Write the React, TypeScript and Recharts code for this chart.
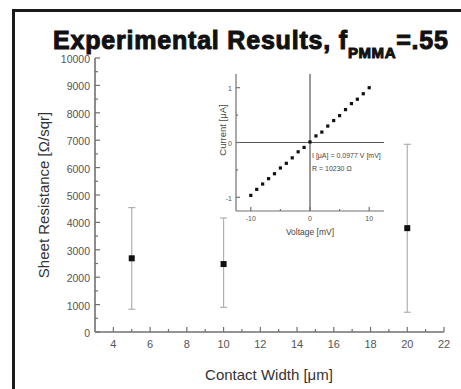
import React from 'react';
import { ScatterChart, Scatter, XAxis, YAxis, ErrorBar, ReferenceLine } from 'recharts';

// main plot: sheet resistance vs contact width
const contactWidths = [5, 10, 20];
const sheetRes = [2690, 2480, 3790];
const sheetResLow = [830, 900, 720];
const sheetResHigh = [4540, 4160, 6850];

const xTicks = [4, 5, 6, 7, 8, 9, 10, 11, 12, 13, 14, 15, 16, 17, 18, 19, 20, 21, 22];
const yTicks = [
  0, 500, 1000, 1500, 2000, 2500, 3000, 3500, 4000, 4500, 5000,
  5500, 6000, 6500, 7000, 7500, 8000, 8500, 9000, 9500, 10000,
];

// inset: I-V sweep
const voltages = [-10, -9, -8, -7, -6, -5, -4, -3, -2, -1, 0, 1, 2, 3, 4, 5, 6, 7, 8, 9, 10];
const currents = [
  -0.965, -0.855, -0.758, -0.66, -0.57, -0.465, -0.38, -0.28, -0.17, -0.09, 0.01,
  0.12, 0.19, 0.3, 0.4, 0.49, 0.6, 0.71, 0.79, 0.89, 1.0,
];
const ivXTicks = [-10, -5, 0, 5, 10];
const ivYTicks = [-1, -0.5, 0, 0.5, 1];

const mainData = contactWidths.map((w, i) => ({
  x: w,
  y: sheetRes[i],
  err: [sheetRes[i] - sheetResLow[i], sheetResHigh[i] - sheetRes[i]],
}));
const ivData = voltages.map((v, i) => ({ x: v, y: currents[i] }));

const AXIS = '#707070';
const TICK_TEXT = '#555';
const FONT = 'Liberation Sans, Arial, sans-serif';

// inward ticks, labels only on the bottom/left axes
const xTick = (side: 'bottom' | 'top', isMajor: (v: number) => boolean, big: number, small: number, fs: number, dy: number) =>
  (props: any) => {
    const { x, y, payload } = props;
    const v = payload.value;
    const major = isMajor(v);
    const dir = side === 'top' ? 1 : -1;
    return (
      <g>
        <line x1={x} y1={y} x2={x} y2={y + dir * (major ? big : small)} stroke={AXIS} strokeWidth={1.2} />
        {side === 'bottom' && major && (
          <text x={x} y={y + dy} textAnchor="middle" dominantBaseline="central" fontSize={fs} fill={TICK_TEXT} fontFamily={FONT}>
            {v}
          </text>
        )}
      </g>
    );
  };

const yTick = (side: 'left' | 'right', isMajor: (v: number) => boolean, big: number, small: number, fs: number, dx: number) =>
  (props: any) => {
    const { x, y, payload } = props;
    const v = payload.value;
    const major = isMajor(v);
    const dir = side === 'left' ? 1 : -1;
    return (
      <g>
        <line x1={x} y1={y} x2={x + dir * (major ? big : small)} y2={y} stroke={AXIS} strokeWidth={1.2} />
        {side === 'left' && major && (
          <text x={x - dx} y={y + 1} textAnchor="end" dominantBaseline="central" fontSize={fs} fill={TICK_TEXT} fontFamily={FONT}>
            {v}
          </text>
        )}
      </g>
    );
  };

const evenMajor = (v: number) => v % 2 === 0;
const thousandMajor = (v: number) => v % 1000 === 0;
const intMajor = (v: number) => Number.isInteger(v) && v % 10 === 0;
const unitMajor = (v: number) => Number.isInteger(v);

const square = (size: number, fill: string) => (p: any) => (
  <rect x={p.cx - size / 2} y={p.cy - size / 2} width={size} height={size} fill={fill} />
);

export default function App() {
  return (
    <div style={{ position: 'absolute', left: 0, top: 0, width: 461, height: 389, background: '#fff' }}>
      <div style={{ position: 'absolute', left: 0, top: 0 }}>
        <ScatterChart width={461} height={389} margin={{ top: 58, right: 17, bottom: 0, left: 0 }}>
          <XAxis
            dataKey="x"
            type="number"
            domain={[3, 22]}
            ticks={xTicks}
            interval={0}
            height={57}
            stroke={AXIS}
            strokeWidth={1.6}
            tickLine={false}
            tickSize={0}
            tickMargin={0}
            tick={xTick('bottom', evenMajor, 5, 3, 11, 12)}
            allowDataOverflow
            label={{
              content: () => (
                <text x={269} y={374} textAnchor="middle" dominantBaseline="central" fontSize={15} fill="#333" fontFamily={FONT}>
                  Contact Width [μm]
                </text>
              ),
            }}
          />
          <XAxis
            xAxisId="top"
            orientation="top"
            dataKey="x"
            type="number"
            domain={[3, 22]}
            ticks={xTicks}
            interval={0}
            height={0}
            stroke={AXIS}
            strokeWidth={1.6}
            tickLine={false}
            tickSize={0}
            tickMargin={0}
            tick={xTick('top', evenMajor, 5, 3, 11, 12)}
            allowDataOverflow
          />
          <YAxis
            dataKey="y"
            type="number"
            domain={[0, 10000]}
            ticks={yTicks}
            interval={0}
            width={95}
            stroke={AXIS}
            strokeWidth={1.6}
            tickLine={false}
            tickSize={0}
            tickMargin={0}
            tick={yTick('left', thousandMajor, 5, 3, 10.5, 5)}
            allowDataOverflow
            label={{
              content: () => (
                <text
                  x={43}
                  y={195}
                  transform="rotate(-90 43 195)"
                  textAnchor="middle"
                  dominantBaseline="central"
                  fontSize={15}
                  fill="#333"
                  fontFamily={FONT}
                >
                  Sheet Resistance [Ω/sqr]
                </text>
              ),
            }}
          />
          <YAxis
            yAxisId="right"
            orientation="right"
            dataKey="y"
            type="number"
            domain={[0, 10000]}
            ticks={yTicks}
            interval={0}
            width={0}
            stroke={AXIS}
            strokeWidth={1.6}
            tickLine={false}
            tickSize={0}
            tickMargin={0}
            tick={yTick('right', thousandMajor, 5, 3, 10.5, 5)}
            allowDataOverflow
          />
          <Scatter data={mainData} dataKey="y" isAnimationActive={false} shape={square(6, '#111')}>
            <ErrorBar dataKey="err" direction="y" width={3.5} stroke="#b0b0b0" strokeWidth={1.2} />
          </Scatter>
        </ScatterChart>
      </div>

      <div style={{ position: 'absolute', left: 200, top: 70 }}>
        <ScatterChart width={190} height={170} margin={{ top: 4, right: 6, bottom: 0, left: 0 }}>
          <XAxis
            dataKey="x"
            type="number"
            domain={[-12.5, 12.5]}
            ticks={ivXTicks}
            interval={0}
            height={29}
            stroke={AXIS}
            strokeWidth={1.2}
            tickLine={false}
            tickSize={0}
            tickMargin={0}
            tick={xTick('bottom', intMajor, 4, 2, 7, 7)}
            allowDataOverflow
            label={{
              content: () => (
                <text x={110} y={162} textAnchor="middle" dominantBaseline="central" fontSize={8.5} fill="#444" fontFamily={FONT}>
                  Voltage [mV]
                </text>
              ),
            }}
          />
          <XAxis
            xAxisId="top"
            orientation="top"
            dataKey="x"
            type="number"
            domain={[-12.5, 12.5]}
            ticks={ivXTicks}
            interval={0}
            height={0}
            stroke={AXIS}
            strokeWidth={1.2}
            tickLine={false}
            tickSize={0}
            tickMargin={0}
            tick={xTick('top', intMajor, 4, 2, 7, 7)}
            allowDataOverflow
          />
          <YAxis
            dataKey="y"
            type="number"
            domain={[-1.25, 1.25]}
            ticks={ivYTicks}
            interval={0}
            width={36}
            stroke={AXIS}
            strokeWidth={1.2}
            tickLine={false}
            tickSize={0}
            tickMargin={0}
            tick={yTick('left', unitMajor, 4, 2, 7, 4)}
            allowDataOverflow
            label={{
              content: () => (
                <text
                  x={22}
                  y={60}
                  transform="rotate(-90 22 60)"
                  textAnchor="middle"
                  dominantBaseline="central"
                  fontSize={9.5}
                  fill="#444"
                  fontFamily={FONT}
                >
                  Current [μA]
                </text>
              ),
            }}
          />
          <YAxis
            yAxisId="right"
            orientation="right"
            dataKey="y"
            type="number"
            domain={[-1.25, 1.25]}
            ticks={ivYTicks}
            interval={0}
            width={0}
            stroke={AXIS}
            strokeWidth={1.2}
            tickLine={false}
            tickSize={0}
            tickMargin={0}
            tick={yTick('right', unitMajor, 4, 2, 7, 4)}
            allowDataOverflow
          />
          <ReferenceLine x={0} stroke="#555" strokeWidth={1.2} />
          <ReferenceLine y={0} stroke="#555" strokeWidth={1.2} />
          <Scatter data={ivData} dataKey="y" isAnimationActive={false} shape={square(3.2, '#111')} />
        </ScatterChart>
      </div>

      <svg width={461} height={389} style={{ position: 'absolute', left: 0, top: 0, pointerEvents: 'none' }}>
        <line x1={13.5} y1={9} x2={13.5} y2={389} stroke="#1a1a1a" strokeWidth={3} />
        <line x1={12} y1={10.5} x2={461} y2={10.5} stroke="#1a1a1a" strokeWidth={3} />
        <text x={53} y={48.5} fontSize={25} fontWeight={900} fill="#111" stroke="#111" strokeWidth={1} letterSpacing={0.8} fontFamily={FONT}>
          Experimental Results, f
          <tspan fontSize={15} dy={9} letterSpacing={0.6}>PMMA</tspan>
          <tspan dy={-9}>=.55</tspan>
        </text>
        <text x={312} y={157.5} fontSize={7} fill="#444" fontFamily={FONT}>
          I [μA] = 0.0977 V [mV]
        </text>
        <text x={312} y={170.5} fontSize={7} fill="#444" fontFamily={FONT}>
          R = 10230 Ω
        </text>
      </svg>
    </div>
  );
}
